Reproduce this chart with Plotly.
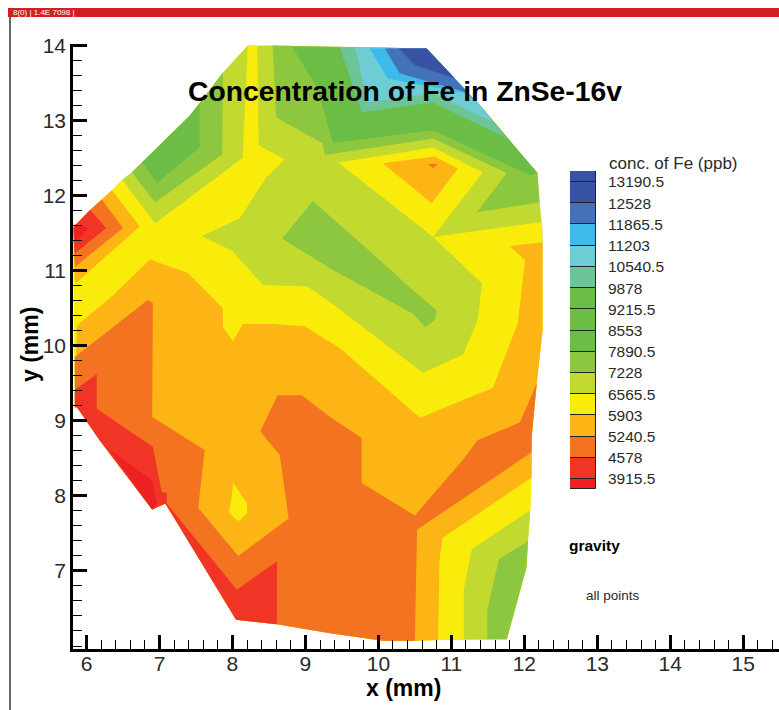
import plotly.graph_objects as go

# Contour band outlines, in mm (x, y)
hull_east = [(12.25, 10.21), (12.17, 9.50), (12.10, 8.78)]
hull_south = [(10.50, 6.07), (10.06, 6.07), (9.34, 6.17), (8.61, 6.29), (8.05, 6.35), (7.08, 7.90),
              (6.90, 7.82), (6.18, 8.74), (5.87, 9.18), (5.84, 9.18)]
hull_nw = [(5.82, 11.58), (6.05, 11.81), (6.21, 11.95), (6.35, 12.07), (6.49, 12.21)]

hull = ([(8.21, 14.0), (8.34, 14.0), (8.55, 14.0), (10.66, 13.96), (11.43, 13.16), (11.76, 12.78),
         (12.18, 12.30), (12.21, 11.90), (12.25, 11.54)] + hull_east +
        [(12.10, 8.48), (12.08, 7.81), (12.05, 7.41), (12.03, 7.05), (11.76, 6.09), (10.82, 6.08)] +
        hull_south + hull_nw + [(6.62, 12.31), (6.76, 12.44), (7.42, 13.07), (7.87, 13.64)])

green_top_a = [(8.55, 14.0), (8.60, 13.04), (9.23, 12.70), (9.27, 12.54), (10.75, 12.76), (11.76, 12.30),
               (11.35, 11.78), (12.21, 11.91), (12.18, 12.30), (11.76, 12.78), (11.43, 13.16), (10.66, 13.96)]
green_top_b = [(8.82, 13.98), (9.16, 13.44), (9.38, 12.70), (10.75, 12.87), (12.08, 12.27), (12.18, 12.30),
               (11.76, 12.78), (11.43, 13.16), (10.66, 13.96)]
teal_top = [(9.47, 13.98), (9.77, 13.11), (10.75, 13.24), (11.76, 12.76), (11.43, 13.16), (10.66, 13.96)]
cyan_top = [(9.68, 13.98), (9.86, 13.24), (10.75, 13.36), (11.57, 12.98), (11.43, 13.16), (10.66, 13.96)]
sky_top = [(9.88, 13.96), (10.13, 13.56), (11.21, 13.36), (11.43, 13.16), (10.66, 13.96)]
blue_top_a = [(10.09, 13.96), (10.29, 13.63), (11.23, 13.37), (10.66, 13.96)]
blue_top_b = [(10.28, 13.96), (10.66, 13.96), (11.05, 13.56), (10.50, 13.74)]
green_left_a = [(7.87, 13.64), (7.86, 12.55), (6.94, 11.91), (6.62, 12.31), (6.76, 12.44), (7.42, 13.07)]
green_left_b = [(7.55, 13.23), (7.55, 12.64), (6.97, 12.17), (6.76, 12.44), (7.42, 13.07)]
green_streak = [(9.10, 11.93), (10.02, 11.14), (10.47, 10.74), (10.80, 10.47), (10.77, 10.34), (10.64, 10.25),
                (10.47, 10.43), (9.34, 11.03), (8.68, 11.43)]
yellow_main = ([(8.21, 14.0), (8.34, 14.0), (8.36, 12.67), (8.72, 12.48), (8.47, 12.25), (8.10, 11.70),
                (7.58, 11.46), (7.99, 11.27), (8.42, 10.81), (9.03, 10.79), (9.34, 10.58), (10.61, 9.64),
                (11.16, 9.88), (11.36, 10.34), (11.42, 10.83), (10.75, 11.45), (12.24, 11.65)] + hull_east +
               [(12.10, 8.48), (12.08, 7.81), (12.05, 7.41), (12.03, 7.05), (11.76, 6.09), (10.82, 6.08)] +
               hull_south + hull_nw + [(6.94, 11.63), (8.14, 12.50)])
yellow_wedge = [(9.45, 12.44), (10.75, 12.64), (11.43, 12.31), (10.75, 11.45)]
orange_main = ([(5.87, 10.27), (6.36, 10.67), (6.87, 11.15), (7.39, 10.97), (7.87, 10.50), (7.87, 10.25),
                (8.01, 10.06), (8.14, 10.29), (8.55, 10.29), (8.99, 10.26), (9.47, 9.97), (10.57, 9.04),
                (11.57, 9.44), (11.91, 10.30), (12.01, 11.14), (11.80, 11.33), (12.25, 11.38)] + hull_east +
               [(12.10, 8.24), (10.88, 7.44), (10.84, 7.15), (10.82, 6.08)] + hull_south)
orange_nw = [(6.35, 12.07), (6.73, 11.59), (5.87, 10.85), (5.84, 10.85), (5.82, 11.58), (6.05, 11.81), (6.21, 11.95)]
orange_wedge = [(10.06, 12.43), (10.77, 12.52), (11.09, 12.36), (10.73, 11.90)]
dark_main = ([(5.84, 9.85), (6.84, 10.61), (6.91, 10.57), (6.90, 9.05), (7.62, 8.61), (7.53, 7.84), (8.08, 7.20),
              (8.77, 7.70), (8.65, 8.54), (8.38, 8.86), (8.62, 9.34), (8.95, 9.34), (9.34, 9.05), (9.77, 8.77),
              (9.77, 8.17), (10.50, 7.74), (11.16, 8.48), (11.36, 8.74), (11.94, 8.98), (12.17, 9.50),
              (12.10, 8.78), (12.10, 8.58), (10.53, 7.55)] + hull_south)
dark_nw = [(6.21, 11.95), (6.50, 11.57), (5.84, 11.05), (5.82, 11.58), (6.05, 11.81)]
dark_spot = [(10.68, 12.42), (10.81, 12.42), (10.75, 12.36)]
yellow_drop = [(8.01, 8.17), (8.20, 7.90), (8.20, 7.77), (8.08, 7.66), (7.95, 7.78), (7.99, 7.98)]
red_south = [(5.84, 9.41), (6.14, 9.62), (6.14, 9.16), (6.91, 8.65), (7.03, 8.05), (7.10, 8.04), (7.10, 7.90),
             (8.06, 6.75), (8.61, 7.13), (8.61, 6.29), (8.05, 6.35), (7.08, 7.90), (6.90, 7.82), (6.18, 8.74),
             (5.87, 9.18), (5.84, 9.18)]
red_nw = [(6.05, 11.81), (6.27, 11.57), (5.84, 11.23), (5.82, 11.58)]
deep_red_south = [(6.32, 8.61), (6.90, 8.21), (6.97, 7.90), (6.90, 7.82)]
deep_red_nw = [(5.84, 11.62), (6.02, 11.57), (5.84, 11.37)]
yellow_se = [(12.10, 8.24), (10.88, 7.44), (10.84, 7.15), (10.82, 6.08), (11.17, 6.09), (11.17, 6.75),
             (11.28, 7.29), (12.08, 7.81)]
lime_se = [(12.08, 7.81), (11.28, 7.29), (11.17, 6.75), (11.17, 6.09), (11.49, 6.09), (11.49, 6.48),
           (11.65, 7.16), (12.05, 7.40)]
green_se = [(12.05, 7.40), (11.65, 7.16), (11.49, 6.48), (11.49, 6.09), (11.76, 6.09), (12.03, 7.05)]

# Axis tick labels
x_ticks = [6, 7, 8, 9, 10, 11, 12, 13, 14, 15]
y_ticks = [7, 8, 9, 10, 11, 12, 13, 14]

# Legend levels and colours
levels = [3915.5, 4578, 5240.5, 5903, 6565.5, 7228, 7890.5, 8553, 9215.5, 9878,
          10540.5, 11203, 11865.5, 12528, 13190.5]
level_labels = ["3915.5", "4578", "5240.5", "5903", "6565.5", "7228", "7890.5", "8553", "9215.5", "9878",
                "10540.5", "11203", "11865.5", "12528", "13190.5"]
legend_lo, legend_hi = 3603.0, 13534.5
DEEPRED, RED, DARK, ORANGE, YELLOW, LIME = "#ED2024", "#F03526", "#F47321", "#FDB515", "#F9EC0B", "#C2D92F"
GREEN1, GREEN2, TEAL, CYAN, SKY, BLUE1, BLUE2 = "#8DC63F", "#6CBD45", "#6CC497", "#6DCCD4", "#3DB9EC", "#4272B8", "#3953A4"
legend_colors = [DEEPRED, RED, DARK, ORANGE, YELLOW, LIME, GREEN1, GREEN2, GREEN2, GREEN2,
                 TEAL, CYAN, SKY, BLUE1, BLUE2, BLUE2]

# Painted in order; later bands cover earlier ones
layers = [
    (hull, LIME), (green_top_a, GREEN1), (green_top_b, GREEN2), (teal_top, TEAL), (cyan_top, CYAN),
    (sky_top, SKY), (blue_top_a, BLUE1), (blue_top_b, BLUE2), (green_left_a, GREEN1), (green_left_b, GREEN2),
    (yellow_main, YELLOW), (yellow_wedge, YELLOW), (green_streak, GREEN1), (orange_main, ORANGE),
    (orange_nw, ORANGE), (orange_wedge, ORANGE), (dark_main, DARK), (dark_nw, DARK), (dark_spot, DARK),
    (yellow_drop, YELLOW), (red_south, RED), (red_nw, RED), (deep_red_south, DEEPRED), (deep_red_nw, DEEPRED),
    (yellow_se, YELLOW), (lime_se, LIME), (green_se, GREEN1),
]

W, H = 779, 710
L, R, T, B = 73, 779, 44, 649
FONT = "Liberation Sans"
INK = "#2a2a2a"


def px(x):
    return (x - L) / (R - L)


def py(y):
    return (B - y) / (B - T)


fig = go.Figure()
for pts, color in layers:
    fig.add_trace(go.Scatter(x=[p[0] for p in pts], y=[p[1] for p in pts], mode="none", fill="toself",
                             fillcolor=color, hoverinfo="skip", showlegend=False, xaxis="x", yaxis="y"))

edges = [legend_lo] + levels + [legend_hi]
fig.add_trace(go.Bar(x=[0] * len(legend_colors), y=[b - a for a, b in zip(edges[:-1], edges[1:])], base=edges[:-1],
                     width=1, marker=dict(color=legend_colors, line=dict(color="#222222", width=1)),
                     hoverinfo="skip", showlegend=False, xaxis="x2", yaxis="y2"))

axis_style = dict(showgrid=False, zeroline=False, showline=True, linecolor="black", linewidth=2.5,
                  ticks="inside", ticklen=14, tickwidth=2.5, tickcolor="black",
                  tickfont=dict(family=FONT, size=21, color=INK),
                  minor=dict(ticks="inside", ticklen=9, tickwidth=1.2, tickcolor="black",
                             tick0=0, dtick=0.2, showgrid=False))

decor = [
    dict(type="rect", xref="paper", yref="paper", x0=px(8), x1=px(779), y0=py(17), y1=py(8),
         fillcolor="#D21F26", line_width=0, layer="below"),
    dict(type="rect", xref="paper", yref="paper", x0=px(9), x1=px(11), y0=py(710), y1=py(17),
         fillcolor="#666666", line_width=0, layer="below"),
]


def label(text, x, y, size, bold=False, color=INK, anchor="center", angle=0):
    return dict(text=f"<b>{text}</b>" if bold else text, x=px(x), y=py(y), xref="paper", yref="paper",
                showarrow=False, xanchor=anchor, yanchor="middle", textangle=angle,
                font=dict(family=FONT, size=size, color=color))


fig.update_layout(
    width=W, height=H, margin=dict(l=L, r=W - R, t=T, b=H - B), paper_bgcolor="white", plot_bgcolor="white",
    showlegend=False, barmode="overlay", bargap=0,
    title=dict(text="<b>Concentration of Fe in ZnSe-16v</b>", x=405 / W, y=1 - 91 / H, xref="container",
               yref="container", xanchor="center", yanchor="middle",
               font=dict(family=FONT, size=28.3, color="black")),
    xaxis=dict(range=[5.815, 15.49], tickvals=x_ticks, ticklabelstandoff=-6, **axis_style),
    yaxis=dict(range=[5.96, 14.02], tickvals=y_ticks, **axis_style),
    xaxis2=dict(domain=[px(570), px(596)], anchor="y2", range=[-0.5, 0.5], visible=False),
    yaxis2=dict(domain=[py(489), py(171)], anchor="x2", side="right", range=[legend_lo, legend_hi],
                tickvals=levels, ticktext=level_labels, showgrid=False, zeroline=False, ticks="",
                ticklabelstandoff=11, showline=False,
                tickfont=dict(family=FONT, size=15.5, color=INK)),
    shapes=decor,
    annotations=[
        label("conc. of Fe (ppb)", 607, 163, 17, anchor="left"),
        label("x (mm)", 403, 688, 23, bold=True, color="black"),
        label("y (mm)", 30, 345, 23, bold=True, color="black", angle=-90),
        label("gravity", 594, 545, 15.5, bold=True, color="black"),
        label("all points", 613, 595, 13.5),
        label("8(0) | 1.4E 7098 |", 11, 13, 8, color="white", anchor="left"),
    ],
)

fig.write_html("out.html", config=dict(displayModeBar=False), post_script="document.body.style.margin='0';")
